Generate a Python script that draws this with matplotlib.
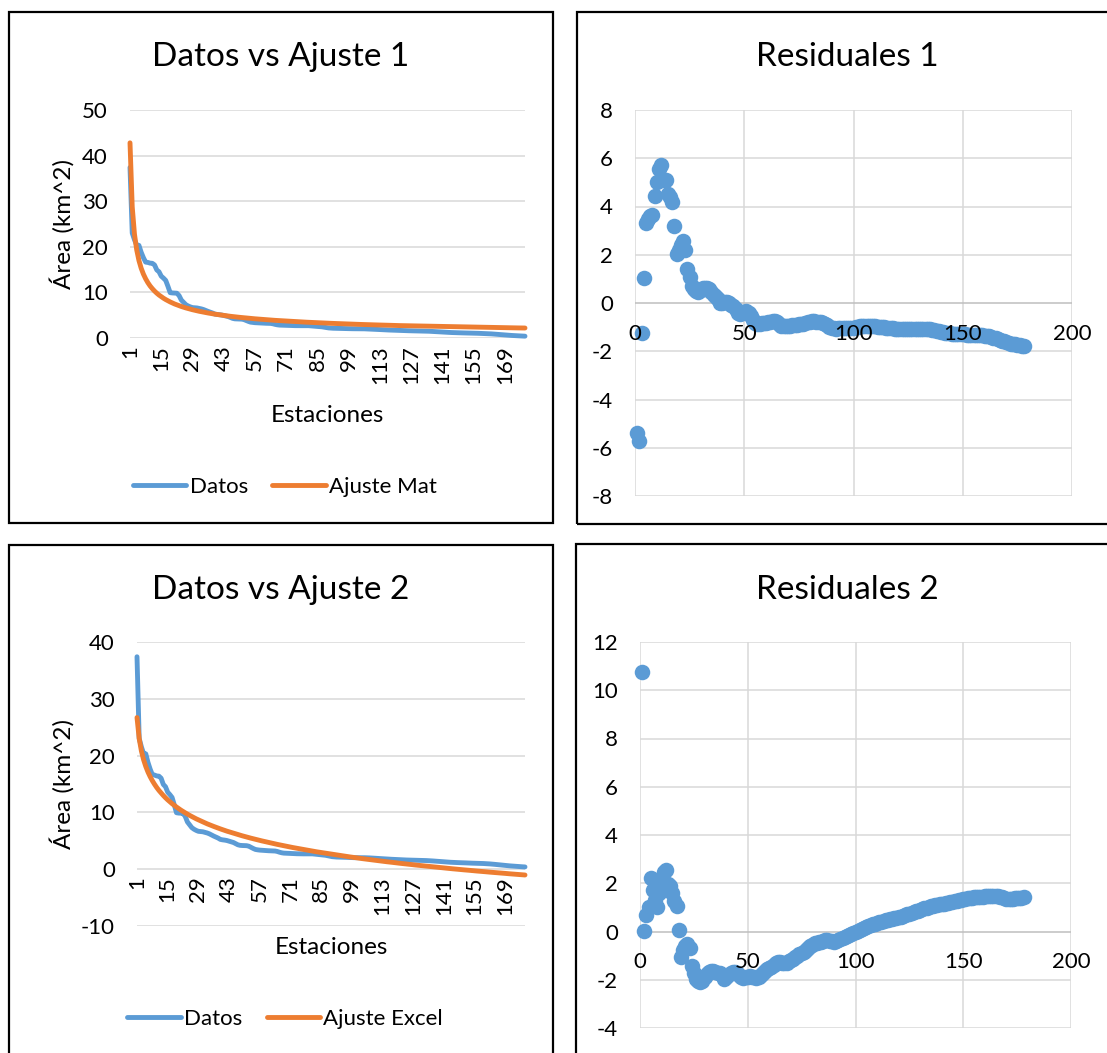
import numpy as np
import matplotlib
matplotlib.use("Agg")
import matplotlib.pyplot as plt
from matplotlib.patches import Rectangle

plt.rcParams["font.family"] = ["Lato", "DejaVu Sans"]
plt.rcParams["axes.unicode_minus"] = False

###     DATOS     ###
estaciones = np.arange(1, 179)

datos = [
    37.40, 23.02, 21.55, 20.35, 20.32, 18.81, 17.62, 16.64, 16.57, 16.42,
    16.38, 16.02, 14.93, 14.52, 13.56, 13.13, 12.63, 11.34, 9.94, 9.88,
    9.86, 9.82, 9.30, 8.32, 7.82, 7.32, 7.04, 6.83, 6.67, 6.63,
    6.59, 6.49, 6.38, 6.23, 6.02, 5.83, 5.65, 5.48, 5.25, 5.17,
    5.12, 5.05, 4.93, 4.80, 4.70, 4.51, 4.30, 4.20, 4.17, 4.16,
    4.14, 4.05, 3.85, 3.65, 3.48, 3.41, 3.36, 3.33, 3.30, 3.28,
    3.25, 3.23, 3.21, 3.20, 3.12, 2.99, 2.89, 2.83, 2.81, 2.79,
    2.77, 2.75, 2.73, 2.72, 2.71, 2.70, 2.70, 2.70, 2.70, 2.70,
    2.70, 2.66, 2.62, 2.58, 2.55, 2.51, 2.45, 2.37, 2.28, 2.21,
    2.17, 2.14, 2.13, 2.12, 2.11, 2.09, 2.08, 2.06, 2.05, 2.03,
    2.03, 2.03, 2.03, 2.02, 2.02, 2.01, 1.99, 1.97, 1.94, 1.92,
    1.89, 1.87, 1.85, 1.82, 1.80, 1.77, 1.75, 1.73, 1.70, 1.68,
    1.66, 1.64, 1.63, 1.62, 1.61, 1.59, 1.58, 1.58, 1.57, 1.56,
    1.55, 1.54, 1.52, 1.50, 1.48, 1.45, 1.42, 1.39, 1.36, 1.33,
    1.30, 1.27, 1.24, 1.22, 1.20, 1.18, 1.17, 1.15, 1.14, 1.12,
    1.11, 1.09, 1.08, 1.06, 1.05, 1.04, 1.03, 1.01, 1.00, 0.98,
    0.96, 0.93, 0.90, 0.86, 0.82, 0.78, 0.74, 0.71, 0.67, 0.63,
    0.59, 0.56, 0.53, 0.50, 0.47, 0.45, 0.42, 0.40,
]

ajuste_mat = [
    42.80, 28.76, 22.79, 19.33, 17.00, 15.31, 14.02, 12.99, 12.14, 11.42,
    10.82, 10.29, 9.83, 9.42, 9.06, 8.73, 8.43, 8.16, 7.91, 7.68,
    7.46, 7.27, 7.09, 6.91, 6.75, 6.60, 6.46, 6.33, 6.20, 6.08,
    5.97, 5.86, 5.76, 5.66, 5.57, 5.48, 5.39, 5.31, 5.23, 5.16,
    5.09, 5.02, 4.95, 4.88, 4.82, 4.76, 4.70, 4.65, 4.59, 4.54,
    4.49, 4.45, 4.40, 4.35, 4.30, 4.26, 4.21, 4.17, 4.13, 4.09,
    4.05, 4.01, 3.97, 3.94, 3.90, 3.87, 3.84, 3.80, 3.77, 3.74,
    3.71, 3.68, 3.65, 3.63, 3.60, 3.57, 3.55, 3.52, 3.50, 3.47,
    3.45, 3.42, 3.40, 3.38, 3.35, 3.33, 3.31, 3.29, 3.26, 3.24,
    3.22, 3.20, 3.18, 3.16, 3.14, 3.12, 3.10, 3.08, 3.07, 3.05,
    3.03, 3.01, 3.00, 2.98, 2.97, 2.95, 2.93, 2.92, 2.90, 2.89,
    2.87, 2.86, 2.85, 2.83, 2.82, 2.80, 2.79, 2.78, 2.76, 2.75,
    2.74, 2.72, 2.71, 2.70, 2.69, 2.67, 2.66, 2.65, 2.64, 2.62,
    2.61, 2.60, 2.59, 2.58, 2.57, 2.56, 2.55, 2.54, 2.53, 2.52,
    2.51, 2.50, 2.49, 2.48, 2.47, 2.46, 2.45, 2.44, 2.43, 2.42,
    2.41, 2.40, 2.39, 2.38, 2.37, 2.37, 2.36, 2.35, 2.34, 2.33,
    2.32, 2.31, 2.31, 2.30, 2.29, 2.28, 2.27, 2.27, 2.26, 2.25,
    2.24, 2.24, 2.23, 2.22, 2.21, 2.21, 2.20, 2.19,
]

ajuste_excel = [
    26.70, 22.99, 20.82, 19.28, 18.09, 17.11, 16.29, 15.58, 14.95, 14.38,
    13.87, 13.41, 12.98, 12.58, 12.21, 11.87, 11.54, 11.24, 10.95, 10.67,
    10.41, 10.16, 9.93, 9.70, 9.48, 9.27, 9.07, 8.87, 8.69, 8.50,
    8.33, 8.16, 7.99, 7.83, 7.68, 7.53, 7.38, 7.24, 7.10, 6.96,
    6.83, 6.70, 6.58, 6.45, 6.33, 6.22, 6.10, 5.99, 5.88, 5.77,
    5.66, 5.56, 5.46, 5.36, 5.26, 5.16, 5.07, 4.98, 4.89, 4.80,
    4.71, 4.62, 4.53, 4.45, 4.37, 4.29, 4.21, 4.13, 4.05, 3.97,
    3.90, 3.82, 3.75, 3.67, 3.60, 3.53, 3.46, 3.39, 3.32, 3.26,
    3.19, 3.12, 3.06, 3.00, 2.93, 2.87, 2.81, 2.75, 2.69, 2.63,
    2.57, 2.51, 2.45, 2.39, 2.34, 2.28, 2.23, 2.17, 2.12, 2.06,
    2.01, 1.96, 1.90, 1.85, 1.80, 1.75, 1.70, 1.65, 1.60, 1.55,
    1.50, 1.46, 1.41, 1.36, 1.31, 1.27, 1.22, 1.18, 1.13, 1.09,
    1.04, 1.00, 0.95, 0.91, 0.87, 0.83, 0.78, 0.74, 0.70, 0.66,
    0.62, 0.58, 0.54, 0.50, 0.46, 0.42, 0.38, 0.34, 0.30, 0.26,
    0.22, 0.19, 0.15, 0.11, 0.07, 0.04, 0.00, -0.04, -0.07, -0.11,
    -0.14, -0.18, -0.21, -0.25, -0.28, -0.32, -0.35, -0.39, -0.42, -0.45,
    -0.49, -0.52, -0.55, -0.58, -0.62, -0.65, -0.68, -0.71, -0.74, -0.78,
    -0.81, -0.84, -0.87, -0.90, -0.93, -0.96, -0.99, -1.02,
]

residuales_1 = [
    -5.40, -5.74, -1.24, 1.02, 3.32, 3.50, 3.60, 3.65, 4.43, 5.00,
    5.56, 5.73, 5.10, 5.10, 4.50, 4.40, 4.20, 3.18, 2.03, 2.20,
    2.40, 2.55, 2.21, 1.41, 1.07, 0.72, 0.58, 0.50, 0.47, 0.55,
    0.62, 0.63, 0.62, 0.57, 0.45, 0.35, 0.26, 0.17, 0.02, 0.01,
    0.03, 0.03, -0.02, -0.08, -0.12, -0.25, -0.40, -0.45, -0.42, -0.38,
    -0.35, -0.40, -0.55, -0.70, -0.82, -0.85, -0.85, -0.84, -0.83, -0.81,
    -0.80, -0.78, -0.76, -0.74, -0.78, -0.88, -0.95, -0.97, -0.96, -0.95,
    -0.94, -0.93, -0.92, -0.91, -0.89, -0.87, -0.85, -0.82, -0.80, -0.77,
    -0.75, -0.76, -0.78, -0.80, -0.80, -0.82, -0.86, -0.92, -0.98, -1.03,
    -1.05, -1.06, -1.05, -1.04, -1.03, -1.03, -1.02, -1.02, -1.02, -1.02,
    -1.00, -0.98, -0.97, -0.96, -0.95, -0.94, -0.94, -0.95, -0.96, -0.97,
    -0.98, -0.99, -1.00, -1.01, -1.02, -1.03, -1.04, -1.05, -1.06, -1.07,
    -1.08, -1.08, -1.08, -1.08, -1.08, -1.08, -1.08, -1.07, -1.07, -1.06,
    -1.06, -1.06, -1.07, -1.08, -1.09, -1.11, -1.13, -1.15, -1.17, -1.19,
    -1.21, -1.23, -1.25, -1.26, -1.27, -1.28, -1.28, -1.29, -1.29, -1.30,
    -1.30, -1.31, -1.31, -1.32, -1.32, -1.33, -1.33, -1.34, -1.34, -1.35,
    -1.36, -1.38, -1.41, -1.44, -1.47, -1.50, -1.53, -1.56, -1.59, -1.62,
    -1.65, -1.68, -1.70, -1.72, -1.74, -1.76, -1.78, -1.79,
]

residuales_2 = [
    10.75, 0.02, 0.68, 1.03, 2.20, 1.72, 1.30, 1.00, 1.60, 2.00,
    2.45, 2.55, 1.95, 1.90, 1.60, 1.25, 1.05, 0.05, -1.05, -0.78,
    -0.60, -0.50, -0.70, -1.42, -1.72, -1.98, -2.06, -2.08, -2.05, -1.90,
    -1.77, -1.68, -1.62, -1.62, -1.67, -1.71, -1.74, -1.80, -1.95, -1.90,
    -1.80, -1.72, -1.68, -1.67, -1.72, -1.80, -1.88, -1.92, -1.90, -1.88,
    -1.86, -1.87, -1.90, -1.93, -1.90, -1.80, -1.70, -1.62, -1.55, -1.50,
    -1.46, -1.39, -1.32, -1.25, -1.25, -1.30, -1.32, -1.30, -1.24, -1.18,
    -1.13, -1.07, -1.02, -0.95, -0.89, -0.83, -0.76, -0.69, -0.62, -0.56,
    -0.49, -0.46, -0.44, -0.42, -0.38, -0.36, -0.36, -0.38, -0.41, -0.42,
    -0.40, -0.37, -0.32, -0.27, -0.23, -0.19, -0.15, -0.11, -0.07, -0.03,
    0.02, 0.07, 0.12, 0.16, 0.20, 0.24, 0.27, 0.30, 0.33, 0.35,
    0.38, 0.40, 0.43, 0.46, 0.48, 0.50, 0.53, 0.55, 0.57, 0.60,
    0.62, 0.65, 0.68, 0.71, 0.74, 0.77, 0.80, 0.84, 0.87, 0.90,
    0.93, 0.96, 0.99, 1.02, 1.04, 1.06, 1.08, 1.10, 1.12, 1.14,
    1.16, 1.18, 1.20, 1.22, 1.24, 1.26, 1.28, 1.30, 1.32, 1.34,
    1.35, 1.37, 1.38, 1.40, 1.41, 1.42, 1.43, 1.44, 1.45, 1.46,
    1.47, 1.47, 1.48, 1.48, 1.47, 1.46, 1.44, 1.41, 1.38, 1.35,
    1.34, 1.35, 1.36, 1.37, 1.38, 1.39, 1.40, 1.41,
]

etiquetas_estaciones = estaciones[::14]

AZUL = "#5B9BD5"
NARANJA = "#ED7D31"
GRIS = "#D9D9D9"

W, H = 1107, 1053
fig = plt.figure(figsize=(W / 100, H / 100), dpi=100)


def caja(l, t, r, b):
    # pixel box -> figure fraction
    return [l / W, 1 - b / H, (r - l) / W, (b - t) / H]


def texto(x, y, s, **kw):
    fig.text(x / W, 1 - y / H, s, ha="center", va="center", **kw)


def borde(l, t, r, b):
    fig.add_artist(Rectangle((l / W, 1 - b / H), (r - l) / W, (b - t) / H,
                             transform=fig.transFigure, fill=False,
                             ec="black", lw=1.6, clip_on=False))


def grafico_lineas(pos, ylim, yticks, ajuste, nombre, titulo, yt, ylab, xlab, ley):
    ax = fig.add_axes(caja(*pos))
    ax.plot(estaciones, datos, color=AZUL, lw=3.5, solid_capstyle="round",
            clip_on=False, label="Datos", zorder=3)
    ax.plot(estaciones, ajuste, color=NARANJA, lw=3.5, solid_capstyle="round",
            clip_on=False, label=nombre, zorder=4)
    ax.set_xlim(1, 178)
    ax.set_ylim(*ylim)
    for y in yticks:
        ax.axhline(y, color=GRIS, lw=1.1, zorder=0.5)
    ax.set_yticks(yticks)
    ax.set_xticks(etiquetas_estaciones)
    ax.set_xticklabels([str(e) for e in etiquetas_estaciones])
    for s in ax.spines.values():
        s.set_visible(False)
    ax.spines["bottom"].set_position(("data", 0))
    ax.tick_params(axis="both", length=0, labelsize=16)
    ax.tick_params(axis="x", pad=5, labelrotation=90)
    ax.tick_params(axis="y", pad=16)
    texto(281, yt, titulo, fontsize=24)
    texto(62, ylab[1], "Área (km^2)", fontsize=17.5, rotation=90)
    texto(xlab[0], xlab[1], "Estaciones", fontsize=17.5)
    ax.legend(loc="center", bbox_to_anchor=(ley[0] / W, 1 - ley[1] / H),
              bbox_transform=fig.transFigure, ncol=2, frameon=False,
              fontsize=16, handlelength=2.4, handletextpad=0.15,
              columnspacing=1.1)
    return ax


def grafico_residuales(pos, res, ylim, titulo, yt):
    ax = fig.add_axes(caja(*pos))
    ax.set_axisbelow(False)
    ax.scatter(estaciones, res, s=125, color=AZUL, linewidths=0,
               zorder=2, clip_on=False)
    ax.set_xlim(0, 200)
    ax.set_ylim(*ylim)
    xt = np.arange(0, 201, 50)
    yt_ = np.arange(ylim[0], ylim[1] + 1, 2)
    for x in xt:
        ax.axvline(x, color=GRIS, lw=1.1, zorder=0.5)
    for y in yt_:
        ax.axhline(y, color="#BFBFBF" if y == 0 else GRIS, lw=1.1, zorder=0.5)
    ax.set_xticks(xt)
    ax.set_yticks(yt_)
    for s in ax.spines.values():
        s.set_visible(False)
    ax.spines["bottom"].set_position(("data", 0))
    ax.tick_params(axis="both", length=0, labelsize=16)
    ax.tick_params(axis="x", pad=15)
    ax.tick_params(axis="y", pad=16)
    texto(847, yt, titulo, fontsize=24)
    return ax


grafico_lineas((130, 110, 525, 338), (0, 50), np.arange(0, 51, 10),
               ajuste_mat, "Ajuste Mat", "Datos vs Ajuste 1", 57,
               (62, 224), (327, 416), (285, 487))
grafico_residuales((635, 110, 1072, 496), residuales_1, (-8, 8),
                   "Residuales 1", 57)
grafico_lineas((137, 642, 525, 926), (-10, 40), np.arange(-10, 41, 10),
               ajuste_excel, "Ajuste Excel", "Datos vs Ajuste 2", 590,
               (62, 784), (331, 947), (285, 1019))
grafico_residuales((640, 642, 1071, 1028), residuales_2, (-4, 12),
                   "Residuales 2", 590)

borde(9, 12, 553, 523)
borde(577, 12, 1117, 524)
borde(9, 545, 553, 1070)
borde(576, 544, 1117, 1070)

fig.savefig("out.png", dpi=100, facecolor="white")
